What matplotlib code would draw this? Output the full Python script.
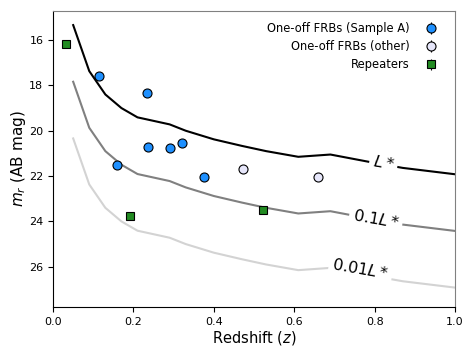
import matplotlib
matplotlib.use("Agg")
import matplotlib.pyplot as plt

# Luminosity tracks (r-band apparent magnitude vs redshift)
z_track = [0.05, 0.09, 0.13, 0.17, 0.21, 0.29, 0.33, 0.40, 0.47, 0.53, 0.61, 0.69, 0.80, 0.87, 1.00]
m_Lstar = [15.34, 17.37, 18.40, 19.00, 19.41, 19.72, 20.00, 20.38, 20.67, 20.90, 21.15, 21.05, 21.42, 21.64, 21.92]
m_01Lstar = [17.84, 19.87, 20.90, 21.50, 21.91, 22.22, 22.50, 22.88, 23.17, 23.40, 23.65, 23.55, 23.92, 24.14, 24.42]
m_001Lstar = [20.34, 22.37, 23.40, 24.00, 24.41, 24.72, 25.00, 25.38, 25.67, 25.90, 26.15, 26.05, 26.42, 26.64, 26.92]

# FRB hosts
z_sampleA = [0.115, 0.233, 0.236, 0.290, 0.320, 0.158, 0.376]
m_sampleA = [17.58, 18.35, 20.71, 20.78, 20.52, 21.52, 22.06]
z_other = [0.473, 0.658]
m_other = [21.70, 22.04]
z_rep = [0.032, 0.192, 0.522]
m_rep = [16.19, 23.76, 23.50]

track_labels = ["$L*$", "$0.1L*$", "$0.01L*$"]
label_z = [0.822, 0.803, 0.765]
label_m = [21.43, 23.90, 26.12]

fig = plt.figure(figsize=(4.74, 3.56), dpi=100)
ax = fig.add_axes([0.112, 0.138, 0.848, 0.831])

tracks = [m_Lstar, m_01Lstar, m_001Lstar]
colors = ["black", "gray", "lightgray"]
for m, c in zip(tracks, colors):
    ax.plot(z_track, m, color=c, lw=1.5, zorder=1)

for lab, zx, my in zip(track_labels, label_z, label_m):
    ax.text(zx, my, lab, fontsize=11.5, rotation=-10, ha="center", va="center",
            bbox=dict(facecolor="white", edgecolor="none", pad=2.5), zorder=2)

ax.errorbar(z_sampleA, m_sampleA, yerr=0, fmt="o", color="black", mfc="dodgerblue",
            mec="black", ms=6.5, mew=0.8, elinewidth=0.8, label="One-off FRBs (Sample A)", zorder=3)
ax.errorbar(z_other, m_other, yerr=0, fmt="o", color="black", mfc="lavender",
            mec="black", ms=6.5, mew=0.8, elinewidth=0.8, label="One-off FRBs (other)", zorder=3)
ax.errorbar(z_rep, m_rep, yerr=0, fmt="s", color="black", mfc="forestgreen",
            mec="black", ms=5.5, mew=0.8, elinewidth=0.8, label="Repeaters", zorder=3)

ax.set_xlim(0.0, 1.0)
ax.set_ylim(27.77, 14.72)
ax.set_xticks([0.0, 0.2, 0.4, 0.6, 0.8, 1.0])
ax.set_yticks([16, 18, 20, 22, 24, 26])
ax.tick_params(labelsize=8)
ax.set_xlabel("Redshift ($z$)", fontsize=10.5, labelpad=2)
ax.set_ylabel("$m_r$ (AB mag)", fontsize=11, labelpad=1)
ax.spines["top"].set_color("gray")
ax.spines["right"].set_color("gray")

ax.legend(loc="upper right", bbox_to_anchor=(0.99, 0.99), frameon=False, markerfirst=False,
          fontsize=8.3, handletextpad=0.9, labelspacing=0.45, borderaxespad=0.3)

fig.savefig("out.png", dpi=100)
